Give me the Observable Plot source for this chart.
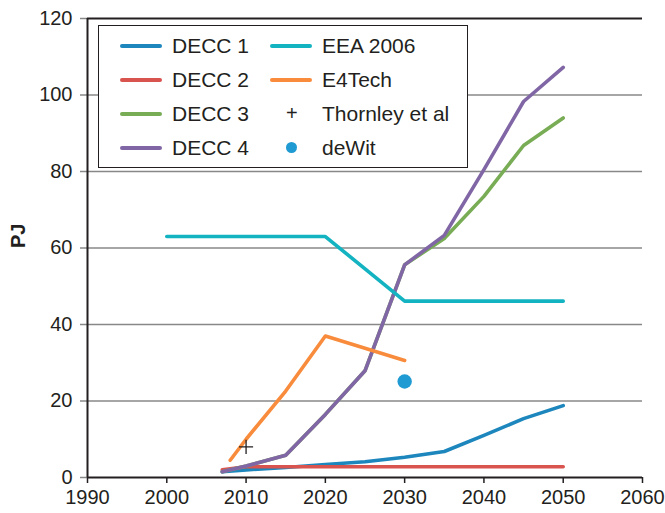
<!DOCTYPE html>
<html>
<head>
<meta charset="utf-8">
<script src="https://cdn.jsdelivr.net/npm/d3@7"></script>
<script src="https://cdn.jsdelivr.net/npm/@observablehq/plot@0.6"></script>
<style>
  body { margin: 0; background: #fff; font-family: "Liberation Sans", Arial, sans-serif; }
  #wrap { position: relative; width: 665px; height: 513px; }
  #legend { position: absolute; left: 98px; top: 25px; width: 368px; height: 141px; border: 1.5px solid #231f20; background: #fff; box-sizing: content-box; }
  .item { position: absolute; height: 24px; font-size: 21px; color: #231f20; line-height: 24px; white-space: nowrap; }
  .sw { position: absolute; top: 10px; width: 42px; height: 4px; border-radius: 2px; }
</style>
</head>
<body>
<div id="wrap"></div>
<script>
const years = [2007, 2010, 2015, 2020, 2025, 2030, 2035, 2040, 2045, 2050];
const decc1 = [1.5, 2.0, 2.6, 3.4, 4.1, 5.3, 6.8, 11.0, 15.4, 18.8];
const decc2 = [2.0, 2.8, 2.8, 2.8, 2.8, 2.8, 2.8, 2.8, 2.8, 2.8];
const decc3 = [1.5, 3.0, 5.8, 16.5, 27.9, 55.6, 62.5, 73.5, 86.8, 94.0];
const decc4 = [1.5, 3.0, 5.8, 16.5, 27.9, 55.6, 63.3, 80.5, 98.3, 107.2];
const eeaYears = [2000, 2020, 2030, 2050];
const eea = [63.0, 63.0, 46.1, 46.1];
const e4Years = [2008, 2010, 2015, 2020, 2030];
const e4tech = [4.5, 10.0, 22.6, 37.0, 30.6];
const thornleyYears = [2010];
const thornley = [8.0];
const dewitYears = [2030];
const dewit = [25.1];
const xTicks = [1990, 2000, 2010, 2020, 2030, 2040, 2050, 2060];
const yTicks = [0, 20, 40, 60, 80, 100, 120];
const gridTicks = [20, 40, 60, 80, 100];
const seriesNames = ["DECC 1", "DECC 2", "DECC 3", "DECC 4", "EEA 2006", "E4Tech", "Thornley et al", "deWit"];
const colors = {"DECC 1": "#1c86bd", "DECC 2": "#d9534f", "DECC 3": "#78ac55", "DECC 4": "#8166a6", "EEA 2006": "#13b3c1", "E4Tech": "#f88c3c", "deWit": "#1f9ad2"};

const toRows = (xs, ys, name) => xs.map((x, i) => ({x, y: ys[i], name}));
const lines = [
  ...toRows(years, decc1, "DECC 1"),
  ...toRows(years, decc2, "DECC 2"),
  ...toRows(years, decc3, "DECC 3"),
  ...toRows(years, decc4, "DECC 4"),
  ...toRows(eeaYears, eea, "EEA 2006"),
  ...toRows(e4Years, e4tech, "E4Tech")
];

const chart = Plot.plot({
  width: 665,
  height: 513,
  marginLeft: 87,
  marginRight: 23,
  marginTop: 18,
  marginBottom: 36,
  style: {fontFamily: "'Liberation Sans', Arial, sans-serif", fontSize: "20px", color: "#231f20", background: "#fff"},
  x: {domain: [1990, 2060]},
  y: {domain: [0, 120]},
  marks: [
    Plot.gridY(gridTicks, {stroke: "#888", strokeOpacity: 1, strokeWidth: 1.6}),
    Plot.axisY(yTicks, {tickSize: 7, tickPadding: 8, stroke: "#888", strokeWidth: 1.5, label: null, fill: "#231f20"}),
    Plot.axisX(xTicks, {tickSize: 6, tickPadding: 6, stroke: "#231f20", strokeWidth: 1.5, label: null, tickFormat: d => String(d), fill: "#231f20"}),
    Plot.ruleY([120], {stroke: "#231f20", strokeWidth: 2}),
    Plot.ruleY([0], {stroke: "#231f20", strokeWidth: 2}),
    Plot.ruleX([1990], {stroke: "#231f20", strokeWidth: 2}),
    Plot.line(lines, {x: "x", y: "y", z: "name", stroke: d => colors[d.name], strokeWidth: 3.6, strokeLinecap: "round", strokeLinejoin: "round"}),
    Plot.dot(toRows(thornleyYears, thornley, "Thornley et al"), {x: "x", y: "y", symbol: "plus", r: 4.6, stroke: "#231f20", strokeWidth: 1.3}),
    Plot.dot(toRows(dewitYears, dewit, "deWit"), {x: "x", y: "y", r: 7.2, fill: colors["deWit"], stroke: "none"}),
    Plot.text(["PJ"], {frameAnchor: "left", dx: -69, dy: 0, rotate: -90, fontWeight: "bold", fontSize: 20, fill: "#231f20"})
  ]
});

const wrap = document.getElementById("wrap");
wrap.appendChild(chart);

const legend = document.createElement("div");
legend.id = "legend";
wrap.appendChild(legend);
seriesNames.forEach((name, i) => {
  const col = i < 4 ? 0 : 1;
  const row = i % 4;
  const item = document.createElement("div");
  item.className = "item";
  item.style.left = (col === 0 ? 21 : 171) + "px";
  item.style.top = (8 + row * 34) + "px";
  let marker = "";
  if (name === "Thornley et al") {
    marker = `<span style="position:absolute;left:16px;top:-1px;font-size:20px;">+</span>`;
  } else if (name === "deWit") {
    marker = `<span style="position:absolute;left:16px;top:6px;width:11px;height:11px;border-radius:50%;background:${colors.deWit}"></span>`;
  } else {
    marker = `<span class="sw" style="left:0;background:${colors[name]}"></span>`;
  }
  item.innerHTML = marker + `<span style="position:absolute;left:52px;">${name}</span>`;
  legend.appendChild(item);
});
</script>
</body>
</html>
